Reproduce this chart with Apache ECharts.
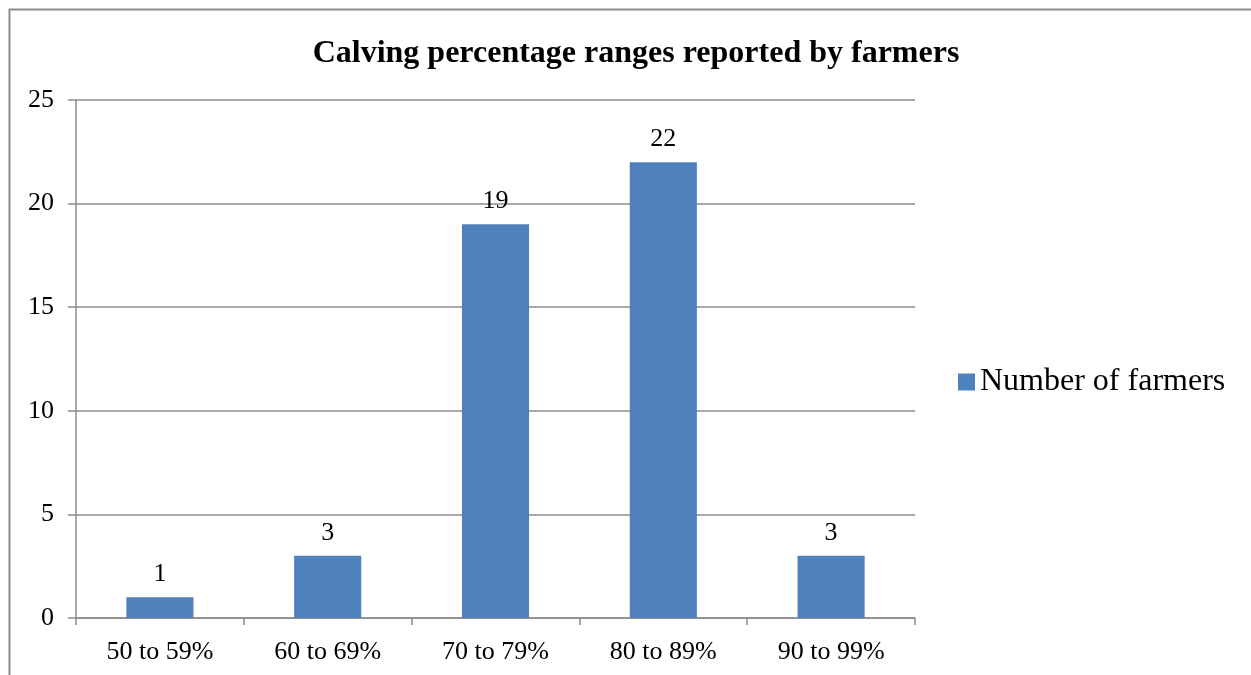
<!DOCTYPE html>
<html><head><meta charset="utf-8">
<script src="https://cdn.jsdelivr.net/npm/echarts@6/dist/echarts.min.js"></script>
<style>html,body{margin:0;padding:0;background:#fff}#c{width:1251px;height:675px}</style>
</head><body><div id="c"></div>
<script>
const categories = ['50 to 59%', '60 to 69%', '70 to 79%', '80 to 89%', '90 to 99%'];
const farmers = [1, 3, 19, 22, 3];
const yTicks = [0, 5, 10, 15, 20, 25];
const seriesName = 'Number of farmers';
const titleText = 'Calving percentage ranges reported by farmers';

const font = '"Liberation Serif", "Times New Roman", serif';
const chart = echarts.init(document.getElementById('c'));
chart.setOption({
  animation: false,
  backgroundColor: '#fff',
  textStyle: { fontFamily: font },
  graphic: [{
    type: 'rect', shape: { x: 9.5, y: 9.5, width: 1300, height: 700 },
    style: { fill: 'none', stroke: '#8c8c8c', lineWidth: 2 }, silent: true
  }],
  title: {
    text: titleText, left: 631, top: 33, textAlign: 'center',
    textStyle: { fontFamily: font, fontSize: 32, fontWeight: 'bold', color: '#000' }
  },
  legend: {
    data: [seriesName], left: 953, top: 361, itemWidth: 17, itemHeight: 17, itemGap: 6,
    icon: 'rect',
    textStyle: { fontFamily: font, fontSize: 32, color: '#000', padding: [0, 0, 0, 0] }
  },
  grid: { left: 76, right: 336, top: 100, bottom: 57, containLabel: false },
  xAxis: {
    type: 'category', data: categories,
    axisLine: { lineStyle: { color: '#8c8c8c', width: 1.5 } },
    axisTick: { show: true, length: 7, alignWithLabel: false, lineStyle: { color: '#8c8c8c', width: 1.5 } },
    axisLabel: { fontFamily: font, fontSize: 26, color: '#000', margin: 21 }
  },
  yAxis: {
    type: 'value', min: yTicks[0], max: yTicks[yTicks.length - 1], interval: 5,
    axisLine: { show: true, lineStyle: { color: '#8c8c8c', width: 1.5 } },
    axisTick: { show: true, length: 8, lineStyle: { color: '#8c8c8c', width: 1.5 } },
    splitLine: { lineStyle: { color: '#8c8c8c', width: 1.5 } },
    axisLabel: { fontFamily: font, fontSize: 26, color: '#000', margin: 22 }
  },
  series: [{
    name: seriesName, type: 'bar', data: farmers, barWidth: '40%',
    itemStyle: { color: '#4F81BD' },
    label: { show: true, position: 'top', distance: 10, fontFamily: font, fontSize: 26, color: '#000' }
  }]
});
</script></body></html>
